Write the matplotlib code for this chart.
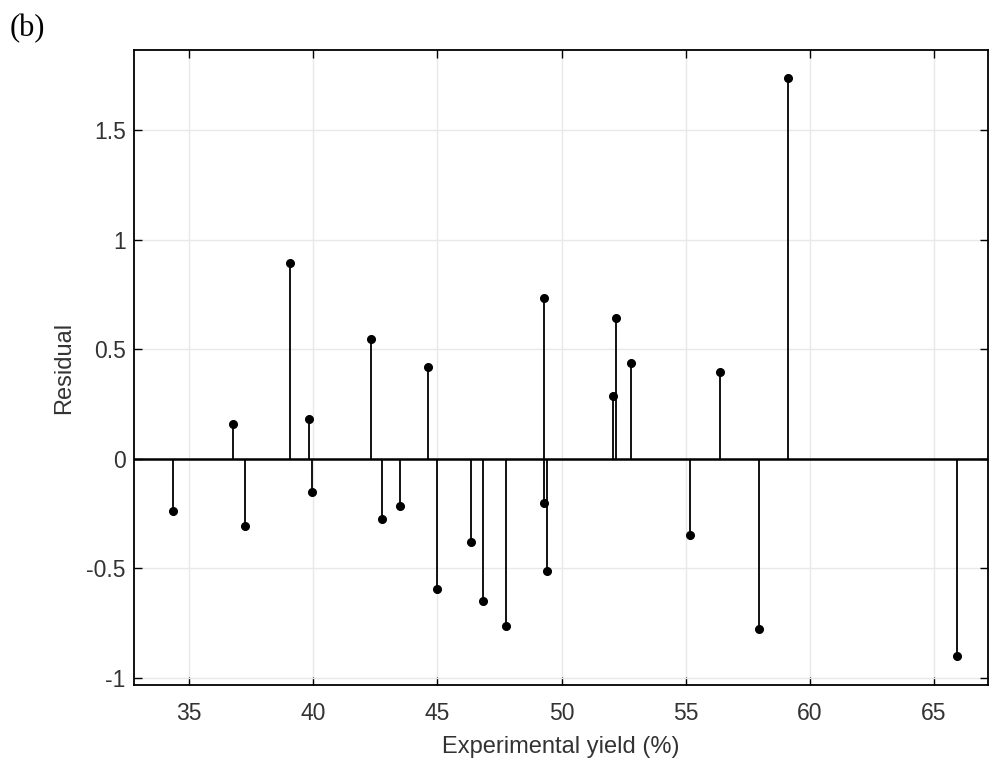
import numpy as np
import matplotlib.pyplot as plt

# Residuals
yield_exp = [34.36, 36.77, 37.25, 39.07, 39.83, 39.95, 42.33, 42.77, 43.49,
             44.62, 44.98, 46.35, 46.84, 47.76, 49.29, 49.30, 49.41, 52.07,
             52.19, 52.79, 55.17, 56.38, 57.95, 59.11, 65.92]
residual = [-0.237, 0.160, -0.306, 0.895, 0.183, -0.150, 0.548, -0.274, -0.215,
            0.420, -0.594, -0.379, -0.648, -0.763, 0.735, -0.203, -0.513, 0.289,
            0.644, 0.438, -0.347, 0.398, -0.776, 1.740, -0.900]

plt.rcParams['font.family'] = ['Liberation Sans', 'DejaVu Sans']
fig = plt.figure(figsize=(9.9, 7.6), dpi=100)
ax = fig.add_axes([0.1354, 0.0987, 0.8626, 0.8355])

ml, sl, bl = ax.stem(yield_exp, residual, linefmt='k-', markerfmt='ko', basefmt=' ')
plt.setp(ml, markersize=5.5)
plt.setp(sl, linewidth=1.3)
ax.axhline(0, color='k', linewidth=1.8, zorder=1.5)  # full-width baseline

ax.set_xlim(32.79, 67.17)
ax.set_ylim(-1.032, 1.867)
ax.set_xticks([35, 40, 45, 50, 55, 60, 65])
ax.set_yticks([-1, -0.5, 0, 0.5, 1, 1.5])
ax.set_yticklabels(['-1', '-0.5', '0', '0.5', '1', '1.5'])
ax.grid(True, color='#e8e8e8', linewidth=1)
ax.set_axisbelow(True)
ax.tick_params(direction='in', top=True, right=True, labelsize=16.5, length=6,
               width=1, labelcolor='#333333')
ax.tick_params(axis='x', pad=12.5)
ax.tick_params(axis='y', pad=6)
for s in ax.spines.values():
    s.set_linewidth(1.3)

ax.set_xlabel('Experimental yield (%)', fontsize=17, labelpad=7.5, color='#333333')
ax.set_ylabel('Residual', fontsize=17, labelpad=8, color='#333333')

fig.text(0.01, 0.963, '(b)', family='Liberation Serif', fontsize=22, va='center')

plt.savefig('out.png')
